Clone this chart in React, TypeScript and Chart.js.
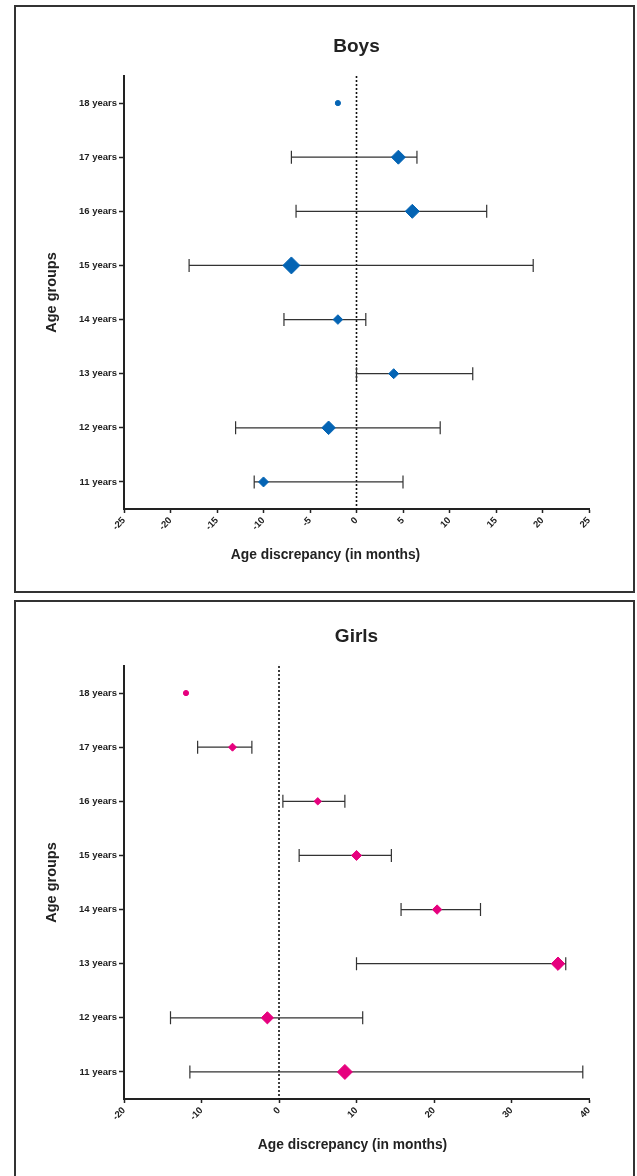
import React, { useEffect, useRef } from 'react';
import { Chart, registerables } from 'chart.js';

Chart.register(...registerables);

// ---- data ----
const ageGroups = ['18 years', '17 years', '16 years', '15 years', '14 years', '13 years', '12 years', '11 years'];

const boysMean = [-2, 4.5, 6, -7, -2, 4, -3, -10];
const boysLower = [null, -7, -6.5, -18, -7.8, 0, -13, -11];
const boysUpper = [null, 6.5, 14, 19, 1, 12.5, 9, 5];

const girlsMean = [-12, -6, 5, 10, 20.4, 36, -1.5, 8.5];
const girlsLower = [null, -10.5, 0.5, 2.6, 15.75, 10, -14, -11.5];
const girlsUpper = [null, -3.5, 8.5, 14.5, 26, 37, 10.8, 39.2];

const boysTicks = [-25, -20, -15, -10, -5, 0, 5, 10, 15, 20, 25];
const girlsTicks = [-20, -10, 0, 10, 20, 30, 40];

// ---- styles ----
const boysMarkerRadius = [2.6, 7, 7, 8.5, 4.8, 5, 6.8, 5];
const girlsMarkerRadius = [2.6, 4, 3.7, 5, 4.7, 6.7, 6.1, 7.5];

const FONT = '"Liberation Sans", Arial, Helvetica, sans-serif';
const INK = '#222';

type PanelProps = {
  title: string;
  mean: number[];
  lower: (number | null)[];
  upper: (number | null)[];
  ticks: number[];
  radius: number[];
  color: string;
  top: number;
  xTitleShift: number;
};

function Panel(props: PanelProps) {
  const ref = useRef<HTMLCanvasElement | null>(null);

  useEffect(() => {
    const { title, mean, lower, upper, ticks, radius, color, xTitleShift } = props;
    const forest = {
      id: 'forest',
      beforeDatasetsDraw(chart: any) {
        const { ctx, chartArea, scales } = chart;
        const xs = scales.x;
        const ys = scales.y;
        const x0 = xs.getPixelForValue(0);
        ctx.save();
        ctx.strokeStyle = '#111';
        ctx.lineWidth = 1.6;
        ctx.setLineDash([2, 2]);
        ctx.beginPath();
        ctx.moveTo(x0, chartArea.top);
        ctx.lineTo(x0, chartArea.bottom);
        ctx.stroke();
        ctx.setLineDash([]);
        ctx.strokeStyle = '#333';
        ctx.lineWidth = 1.2;
        lower.forEach((lo, i) => {
          const hi = upper[i];
          if (lo == null || hi == null) return;
          const py = ys.getPixelForValue(i);
          const a = xs.getPixelForValue(lo);
          const b = xs.getPixelForValue(hi);
          ctx.beginPath();
          ctx.moveTo(a, py);
          ctx.lineTo(b, py);
          ctx.moveTo(a, py - 6.5);
          ctx.lineTo(a, py + 6.5);
          ctx.moveTo(b, py - 6.5);
          ctx.lineTo(b, py + 6.5);
          ctx.stroke();
        });
        ctx.restore();
      },
      afterDraw(chart: any) {
        const { ctx, chartArea, scales } = chart;
        ctx.save();
        ctx.fillStyle = INK;
        ctx.font = `bold 13.8px ${FONT}`;
        ctx.textAlign = 'center';
        ctx.textBaseline = 'middle';
        const cx = (chartArea.left + chartArea.right) / 2 + xTitleShift;
        ctx.fillText('Age discrepancy (in months)', cx, scales.x.bottom - 17);
        ctx.restore();
      },
    };

    const chart = new Chart(ref.current as HTMLCanvasElement, {
      type: 'line',
      data: {
        datasets: [
          {
            data: mean.map((v, i) => ({ x: v, y: ageGroups[i] })) as any,
            showLine: false,
            pointStyle: mean.map((_, i) => (lower[i] == null ? 'circle' : 'rectRot')) as any,
            pointRadius: radius,
            pointHoverRadius: radius,
            pointBackgroundColor: color,
            pointBorderColor: color,
            pointBorderWidth: 1,
          },
        ],
      },
      options: {
        animation: false,
        responsive: false,
        events: [],
        layout: { padding: { left: 36, right: 48, top: 0, bottom: 14 } },
        plugins: {
          legend: { display: false },
          tooltip: { enabled: false },
          title: {
            display: true,
            text: title,
            fullSize: false,
            color: INK,
            font: { family: FONT, size: 19, weight: 'bold' },
            padding: { top: 35.6, bottom: 17.6 },
          },
        },
        scales: {
          x: {
            type: 'linear',
            min: ticks[0],
            max: ticks[ticks.length - 1],
            afterBuildTicks: (s: any) => {
              s.ticks = ticks.map((v) => ({ value: v }));
            },
            afterFit: (s: any) => {
              s.height = 63;
            },
            grid: {
              display: true,
              drawOnChartArea: false,
              drawTicks: true,
              tickLength: 4,
              tickWidth: 1.5,
              tickColor: INK,
            },
            border: { display: true, color: INK, width: 2 },
            ticks: {
              autoSkip: false,
              minRotation: 45,
              maxRotation: 45,
              padding: 2,
              color: INK,
              font: { family: FONT, size: 9.5, weight: 'bold' },
            },
          },
          y: {
            type: 'category',
            labels: ageGroups,
            offset: true,
            afterFit: (s: any) => {
              s.width = 88;
            },
            grid: {
              display: true,
              offset: false,
              drawOnChartArea: false,
              drawTicks: true,
              tickLength: 5,
              tickWidth: 1.5,
              tickColor: INK,
            },
            border: { display: true, color: INK, width: 2 },
            ticks: {
              padding: 2,
              color: INK,
              font: { family: FONT, size: 9.5, weight: 'bold' },
            },
            title: {
              display: true,
              text: 'Age groups',
              color: INK,
              font: { family: FONT, size: 14.5, weight: 'bold' },
              padding: { top: 7.3, bottom: 0 },
            },
          },
        },
      } as any,
      plugins: [forest],
    });
    return () => chart.destroy();
  }, []);

  return (
    <canvas
      ref={ref}
      width={637}
      height={586}
      style={{ position: 'absolute', left: 0, top: props.top, width: 637, height: 586, display: 'block' }}
    />
  );
}

export default function App() {
  return (
    <div
      style={{
        position: 'fixed',
        left: 0,
        top: 0,
        width: 637,
        height: 1176,
        background: '#fff',
        overflow: 'hidden',
      }}
    >
      <div
        style={{
          position: 'absolute',
          left: 14,
          top: 5,
          width: 621,
          height: 588,
          border: '2px solid #333',
          boxSizing: 'border-box',
        }}
      />
      <div
        style={{
          position: 'absolute',
          left: 14,
          top: 600,
          width: 621,
          height: 600,
          border: '2px solid #333',
          boxSizing: 'border-box',
        }}
      />
      <Panel
        title="Boys"
        mean={boysMean}
        lower={boysLower}
        upper={boysUpper}
        ticks={boysTicks}
        radius={boysMarkerRadius}
        color="#0464b4"
        top={0}
        xTitleShift={-31}
      />
      <Panel
        title="Girls"
        mean={girlsMean}
        lower={girlsLower}
        upper={girlsUpper}
        ticks={girlsTicks}
        radius={girlsMarkerRadius}
        color="#e6007e"
        top={590}
        xTitleShift={-4}
      />
    </div>
  );
}
